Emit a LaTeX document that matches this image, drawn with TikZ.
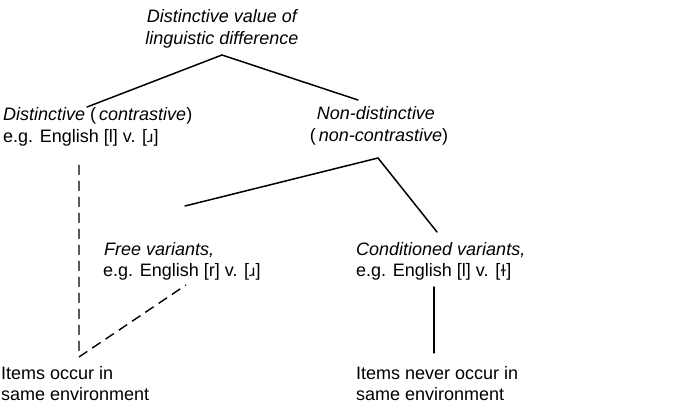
\documentclass[tikz,border=0pt]{standalone}
\usepackage{fontspec}
\setmainfont{Liberation Sans}
\newfontfamily\ipafont{DejaVu Sans}[Scale=0.85]
\newcommand{\ipa}[1]{{\ipafont #1}}
\begin{document}
\begin{tikzpicture}[x=1pt,y=-1pt,
  lbl/.style={anchor=base west, inner sep=0pt, font=\fontsize{18}{21}\selectfont},
  ctr/.style={anchor=base, inner sep=0pt, font=\fontsize{18}{21}\selectfont},
  solidline/.style={line width=1.5pt, line cap=round},
  dashline/.style={line width=1.4pt, dash pattern=on 10pt off 6pt}]
\useasboundingbox (0,0) rectangle (678,406);
% top
\node[ctr] (top1) at (222,23) {\itshape Distinctive value of};
\node[ctr] (top2) at (222,45) {\itshape linguistic difference};
% distinctive
\node[lbl] (dc1) at (3,121) {\textit{Distinctive} (\,\textit{contrastive})};
\node[lbl] (dc2) at (3,143) {e.g. English [l] v. [\ipa{ɹ}]};
% non-distinctive
\node[ctr] (nd1) at (376,120) {\itshape Non-distinctive};
\node[ctr] (nd2) at (379,142) {(\,\textit{non-contrastive})};
% free variants
\node[lbl] (fv1) at (104,256) {\itshape Free variants,};
\node[lbl] (fv2) at (103,277) {e.g. English [r] v. [\ipa{ɹ}]};
% conditioned variants
\node[lbl] (cv1) at (356,256) {\itshape Conditioned variants,};
\node[lbl] (cv2) at (356,277) {e.g. English [l] v. [\ipa{ɫ}]};
% bottom
\node[lbl] (io1) at (1,379) {Items occur in};
\node[lbl] (io2) at (1,400) {same environment};
\node[lbl] (in1) at (356,379) {Items never occur in};
\node[lbl] (in2) at (356,400) {same environment};
% connector points
\coordinate (a) at (222,55);
\coordinate (al) at (87,107);
\coordinate (ar) at (358,100);
\coordinate (b) at (378,158);
\coordinate (bl) at (185,206);
\coordinate (br) at (437,232);
\coordinate (dtop) at (79,165);
\coordinate (dbot) at (79,357);
\coordinate (ftop) at (186,285);
\coordinate (ctop) at (434,287);
\coordinate (cbot) at (434,353);
\draw[solidline] (al) -- (a) -- (ar);
\draw[solidline] (bl) -- (b) -- (br);
\draw[dashline] (dtop) -- (dbot) -- (ftop);
\draw[solidline] (ctop) -- (cbot);
\end{tikzpicture}
\end{document}
